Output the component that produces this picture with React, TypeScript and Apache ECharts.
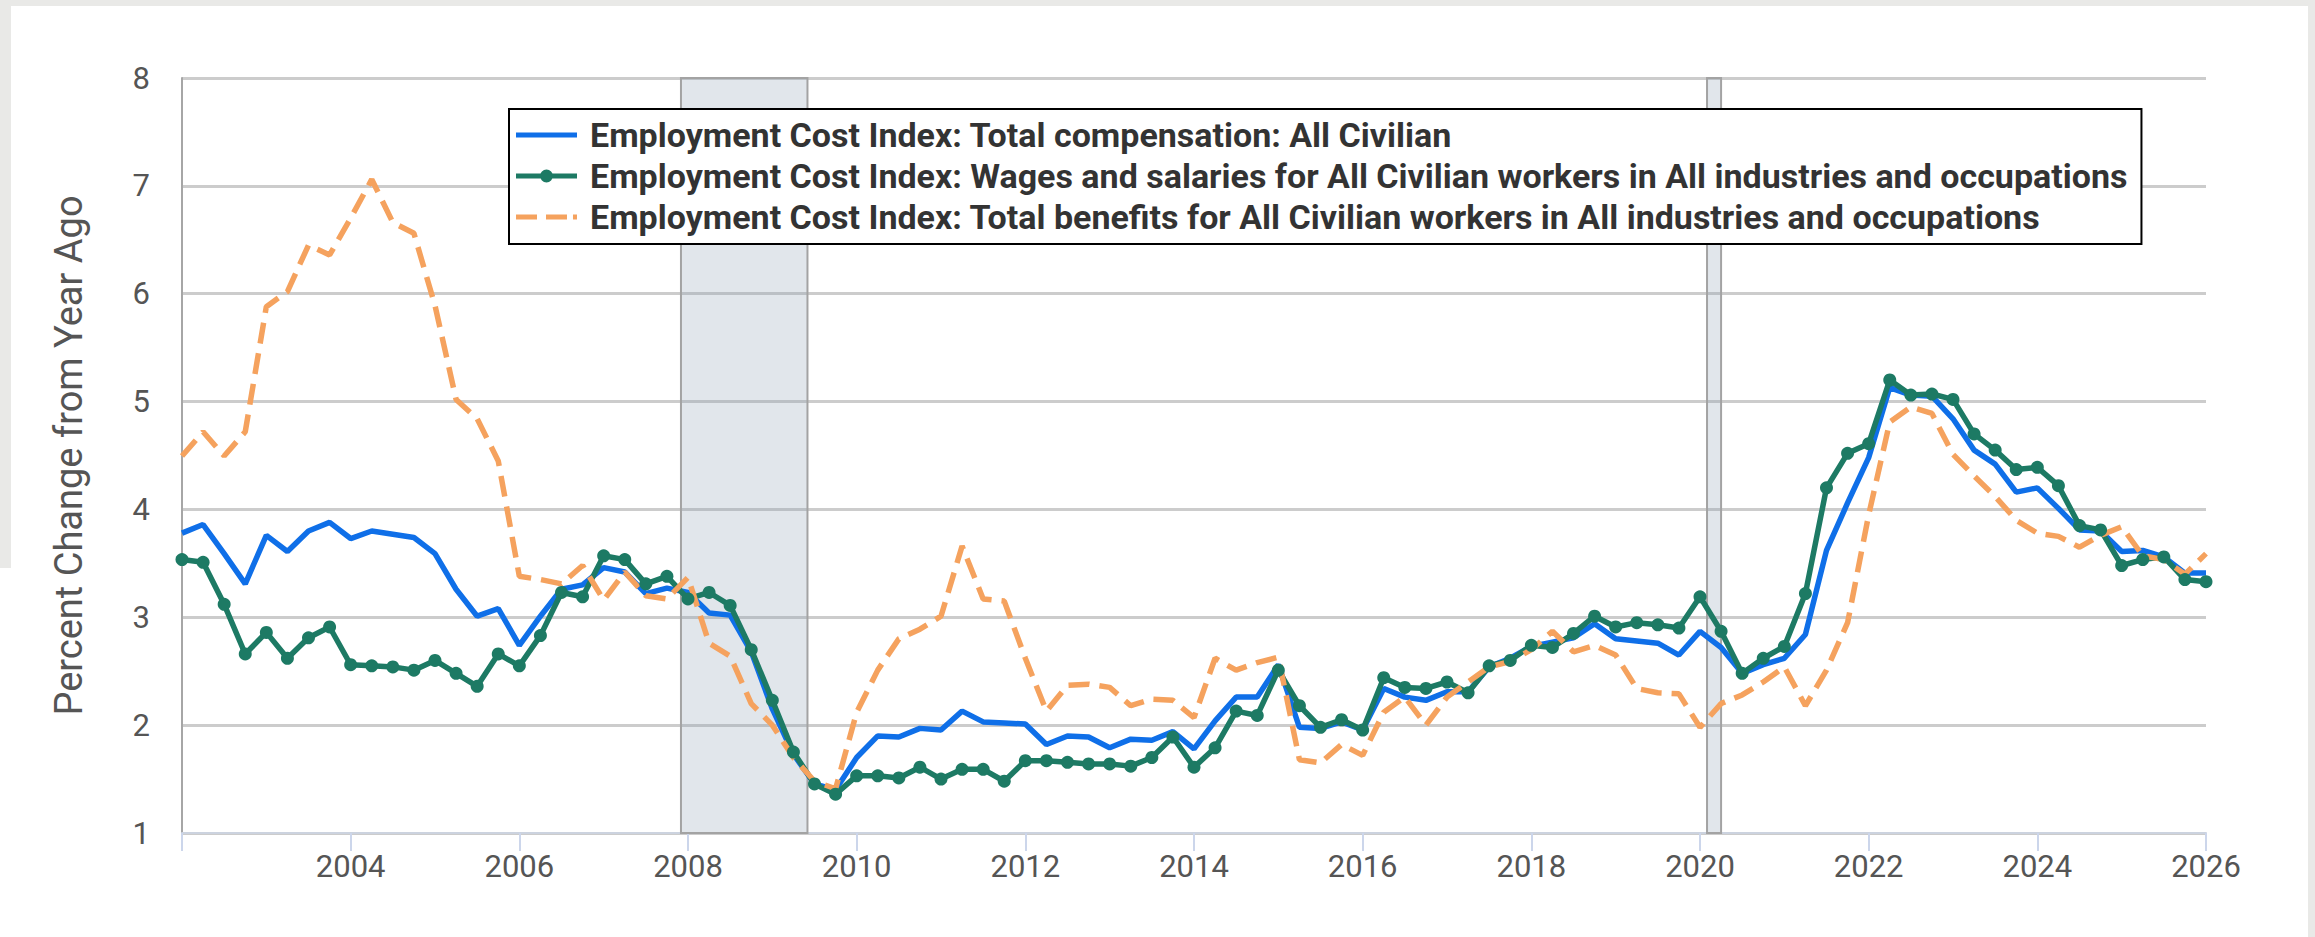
import React, { useEffect, useRef } from "react";
import * as echarts from "echarts";

// Quarterly observations, 2002 Q1 through 2026 Q1 (first day of quarter)
const FIRST_YEAR = 2002;
const QUARTER_COUNT = 97;
const quarterDates: string[] = [];
for (let i = 0; i < QUARTER_COUNT; i++) {
  const y = FIRST_YEAR + Math.floor(i / 4);
  const m = (i % 4) * 3 + 1;
  quarterDates.push(`${y}-${String(m).padStart(2, "0")}-01`);
}

const totalCompensation = [
  3.78, 3.86, 3.59, 3.31, 3.76, 3.61, 3.8, 3.88, 3.73, 3.8, 3.77, 3.74,
  3.59, 3.26, 3.01, 3.08, 2.74, 3.01, 3.26, 3.3, 3.46, 3.42, 3.22, 3.27,
  3.23, 3.04, 3.02, 2.68, 2.15, 1.73, 1.455, 1.4, 1.7, 1.9, 1.89, 1.97,
  1.955, 2.13, 2.03, 2.02, 2.01, 1.82, 1.9, 1.89, 1.79, 1.87, 1.86, 1.94,
  1.78, 2.04, 2.26, 2.26, 2.56, 1.98, 1.97, 2.03, 1.955, 2.34, 2.26, 2.23,
  2.31, 2.31, 2.54, 2.62, 2.73, 2.77, 2.81, 2.94, 2.8, 2.78, 2.76, 2.65,
  2.87, 2.72, 2.48, 2.56, 2.62, 2.84, 3.62, 4.06, 4.48, 5.13, 5.06, 5.05,
  4.84, 4.55, 4.42, 4.16, 4.2, 4.01, 3.81, 3.8, 3.61, 3.62, 3.56, 3.41,
  3.41,
];

const wagesSalaries = [
  3.535, 3.51, 3.12, 2.66, 2.86, 2.62, 2.81, 2.91, 2.56, 2.55, 2.54, 2.51,
  2.6, 2.48, 2.36, 2.66, 2.55, 2.83, 3.23, 3.19, 3.57, 3.535, 3.31, 3.38,
  3.17, 3.23, 3.11, 2.7, 2.23, 1.75, 1.455, 1.36, 1.53, 1.53, 1.51, 1.61,
  1.5, 1.59, 1.59, 1.48, 1.67, 1.67, 1.655, 1.64, 1.64, 1.62, 1.7, 1.89,
  1.61, 1.79, 2.13, 2.09, 2.51, 2.18, 1.98, 2.05, 1.955, 2.44, 2.35, 2.34,
  2.4, 2.3, 2.55, 2.6, 2.74, 2.72, 2.85, 3.01, 2.91, 2.95, 2.93, 2.9,
  3.19, 2.87, 2.48, 2.62, 2.73, 3.22, 4.2, 4.52, 4.61, 5.2, 5.06, 5.07,
  5.02, 4.7, 4.55, 4.37, 4.39, 4.22, 3.85, 3.81, 3.48, 3.535, 3.56, 3.35,
  3.33,
];

const totalBenefits = [
  4.495, 4.72, 4.495, 4.72, 5.88, 6.02, 6.45, 6.36, 6.7, 7.06, 6.66, 6.56,
  5.89, 5.02, 4.84, 4.45, 3.38, 3.35, 3.31, 3.48, 3.16, 3.42, 3.2, 3.17,
  3.37, 2.76, 2.64, 2.2, 2.0, 1.7, 1.48, 1.41, 2.12, 2.51, 2.8, 2.89,
  3.01, 3.66, 3.17, 3.15, 2.62, 2.13, 2.37, 2.38, 2.35, 2.18, 2.24, 2.23,
  2.07, 2.62, 2.51, 2.58, 2.63, 1.68, 1.65, 1.82, 1.72, 2.12, 2.26, 2.0,
  2.26, 2.4, 2.54, 2.59, 2.7, 2.87, 2.68, 2.74, 2.65, 2.34, 2.3, 2.29,
  1.98, 2.2, 2.28, 2.4, 2.54, 2.18, 2.51, 2.95, 3.95, 4.81, 4.95, 4.89,
  4.51, 4.31, 4.12, 3.9, 3.78, 3.75, 3.65, 3.76, 3.84, 3.57, 3.535, 3.4,
  3.59,
];

const seriesNames = [
  "Employment Cost Index: Total compensation: All Civilian",
  "Employment Cost Index: Wages and salaries for All Civilian workers in All industries and occupations",
  "Employment Cost Index: Total benefits for All Civilian workers in All industries and occupations",
];

const recessions: [string, string][] = [
  ["2007-12-01", "2009-06-01"],
  ["2020-02-01", "2020-04-01"],
];

const X_MIN_YEAR = 2002;
const X_MAX_YEAR = 2026;
const X_TICK_STEP = 2;
const Y_MIN = 1;
const Y_MAX = 8;
const Y_TITLE = "Percent Change from Year Ago";

const COLORS = ["#0f6fe8", "#1d7a64", "#f5a25e"];

// legend glyphs: solid bar, bar with dot, dashed bar (61 x 13 boxes)
const ICON_SOLID = "path://M0,4h61v5H0z";
const ICON_DOT = "path://M0,4h61v5H0zM24,6.5a6.5,6.5 0 1,1 13,0a6.5,6.5 0 1,1 -13,0z";
const ICON_DASH = "path://M0,4h21v5H0zM30,4h21v5H30zM57,4h4v5H57zM0,0h0.01v0.01H0zM0,13h0.01v0.01H0z";

function toYear(d: string): number {
  const [y, m] = d.split("-").map(Number);
  return y + (m - 1) / 12;
}

function pairs(values: number[]): [number, number][] {
  return values.map((v, i) => [toYear(quarterDates[i]), v]);
}

const FONT = "Roboto";

export default function App() {
  const ref = useRef<HTMLDivElement>(null);

  useEffect(() => {
    if (!ref.current) return;
    const chart = echarts.init(ref.current, undefined, { renderer: "svg" });
    const option: any = {
      animation: false,
      backgroundColor: "#ffffff",
      textStyle: { fontFamily: FONT },
      graphic: [
        { type: "rect", shape: { x: 0, y: 0, width: 2315, height: 6 }, style: { fill: "#e9e9e7" }, silent: true },
        { type: "rect", shape: { x: 0, y: 0, width: 11, height: 568 }, style: { fill: "#e9e9e7" }, silent: true },
        { type: "rect", shape: { x: 2308, y: 0, width: 7, height: 937 }, style: { fill: "#e9e9e7" }, silent: true },
      ],
      grid: { left: 182, right: 109, top: 78, bottom: 104, containLabel: false },
      legend: {
        orient: "vertical",
        left: 509,
        top: 109,
        padding: [9, 14, 10, 7],
        itemWidth: 61,
        itemHeight: 13,
        itemGap: 7,
        borderColor: "#000",
        borderWidth: 2,
        backgroundColor: "#fff",
        data: [
          { name: seriesNames[0], icon: ICON_SOLID },
          { name: seriesNames[1], icon: ICON_DOT },
          { name: seriesNames[2], icon: ICON_DASH },
        ],
        itemStyle: { borderWidth: 0 },
        textStyle: {
          fontFamily: FONT,
          fontWeight: "bold",
          fontSize: 34,
          lineHeight: 34,
          color: "#333",
          padding: [0, 0, 0, 8],
        },
      },
      xAxis: {
        type: "value",
        min: X_MIN_YEAR,
        max: X_MAX_YEAR,
        interval: X_TICK_STEP,
        axisLine: { show: true, lineStyle: { color: "#ccd3df", width: 2 } },
        axisTick: { show: true, length: 18, lineStyle: { color: "#ccd6eb", width: 2 } },
        splitLine: { show: false },
        axisLabel: {
          fontFamily: FONT,
          fontSize: 31,
          color: "#555",
          margin: 18,
          formatter: (v: number) => (v === X_MIN_YEAR ? "" : String(v)),
        },
      },
      yAxis: {
        type: "value",
        min: Y_MIN,
        max: Y_MAX,
        interval: 1,
        name: Y_TITLE,
        nameLocation: "middle",
        nameGap: 94,
        nameTextStyle: { fontFamily: FONT, fontSize: 38, color: "#555" },
        axisLine: { show: true, lineStyle: { color: "#a6a6a6", width: 2 } },
        axisTick: { show: false },
        splitLine: { show: true, lineStyle: { color: "#cccccc", width: 3 } },
        axisLabel: {
          fontFamily: FONT,
          fontSize: 31,
          color: "#555",
          margin: 32,
          verticalAlign: "middle",
          padding: [0, 0, 31, 0],
        },
      },
      series: [
        {
          name: seriesNames[0],
          type: "line",
          data: pairs(totalCompensation),
          showSymbol: false,
          symbol: "none",
          lineStyle: { color: COLORS[0], width: 5.5 },
          itemStyle: { color: COLORS[0] },
          markArea: {
            silent: true,
            itemStyle: { color: "rgba(135,155,175,0.25)", borderColor: "#a3a3a3", borderWidth: 2 },
            data: recessions.map(([a, b]) => [{ xAxis: toYear(a) }, { xAxis: toYear(b) }]),
          },
        },
        {
          name: seriesNames[1],
          type: "line",
          data: pairs(wagesSalaries),
          symbol: "circle",
          symbolSize: 13,
          lineStyle: { color: COLORS[1], width: 5.5 },
          itemStyle: { color: COLORS[1] },
        },
        {
          name: seriesNames[2],
          type: "line",
          data: pairs(totalBenefits),
          symbol: "none",
          showSymbol: false,
          lineStyle: { color: COLORS[2], width: 5.5, type: [21, 10] },
          itemStyle: { color: COLORS[2] },
        },
      ],
    };
    chart.setOption(option);
    return () => chart.dispose();
  }, []);

  return (
    <div
      ref={ref}
      style={{ position: "absolute", left: 0, top: 0, width: 2315, height: 937 }}
    />
  );
}
